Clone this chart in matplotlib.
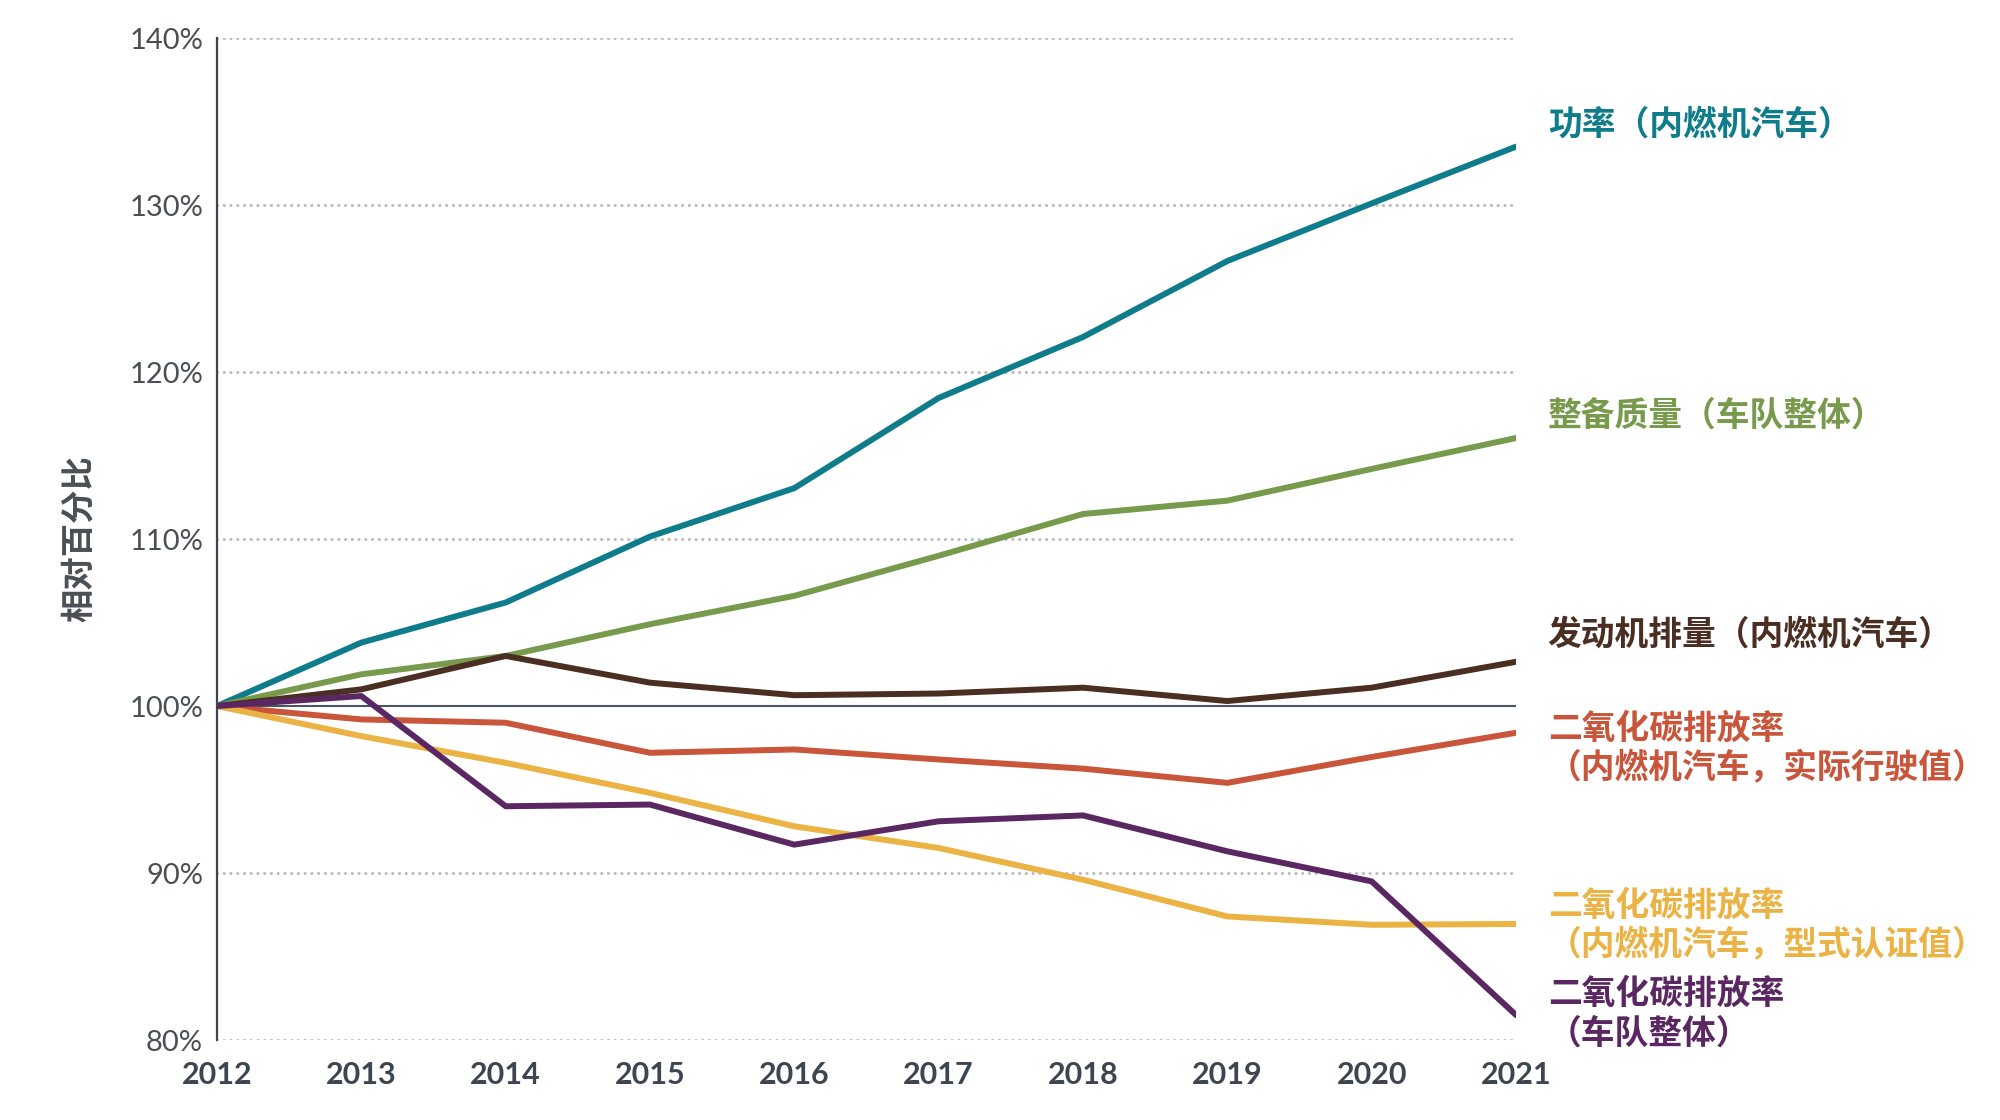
import matplotlib
matplotlib.use('Agg')
import matplotlib.pyplot as plt

plt.rcParams['font.family'] = ['Noto Sans CJK SC', 'DejaVu Sans']

years = [2012, 2013, 2014, 2015, 2016, 2017, 2018, 2019, 2020, 2021]

# 相对 2012 年的百分比
power_ice = [100, 103.8, 106.2, 110.15, 113.05, 118.45, 122.1, 126.65, 130.1, 133.5]
mass_fleet = [100, 101.9, 103.0, 104.9, 106.6, 109.0, 111.5, 112.3, 114.2, 116.05]
displacement_ice = [100, 101.0, 103.0, 101.4, 100.65, 100.75, 101.1, 100.3, 101.1, 102.65]
co2_real_ice = [100, 99.2, 99.0, 97.2, 97.4, 96.8, 96.25, 95.4, 96.95, 98.4]
co2_type_ice = [100, 98.2, 96.6, 94.8, 92.8, 91.5, 89.6, 87.4, 86.9, 86.95]
co2_fleet = [100, 100.6, 94.0, 94.1, 91.7, 93.1, 93.45, 91.3, 89.5, 81.5]

series = [
    (power_ice, '#0f7c8c', '功率（内燃机汽车）', 134.85),
    (mass_fleet, '#779a4c', '整备质量（车队整体）', 117.4),
    (displacement_ice, '#4b2e22', '发动机排量（内燃机汽车）', 104.3),
    (co2_real_ice, '#c9553a', '二氧化碳排放率\n（内燃机汽车，实际行驶值）', 97.5),
    (co2_type_ice, '#ebb244', '二氧化碳排放率\n（内燃机汽车，型式认证值）', 86.9),
    (co2_fleet, '#5b2762', '二氧化碳排放率\n（车队整体）', 81.6),
]

yticks = [80, 90, 100, 110, 120, 130, 140]
ytick_labels = ['80%', '90%', '100%', '110%', '120%', '130%', '140%']

fig = plt.figure(figsize=(20, 11.2), dpi=100)
ax = fig.add_axes([0.1085, 0.0714, 0.6495, 0.8946])

# 网格线（虚点）和 100% 基准线
for v in yticks:
    if v == 100:
        ax.axhline(v, color='#4a5560', lw=1.5, zorder=1)
    else:
        ax.axhline(v, color='#bdbdbd', lw=2.3, linestyle=(0, (0.01, 2.1)),
                   dash_capstyle='round', zorder=0)

for vals, color, label, label_y in series:
    ax.plot(years, vals, color=color, lw=4.3, solid_capstyle='round',
            solid_joinstyle='round', zorder=3)
    ax.text(2021.22, label_y, label, color=color, fontsize=24.3, fontweight='bold',
            va='center', ha='left', linespacing=1.15, clip_on=False)

ax.set_xlim(2012, 2021)
ax.set_ylim(80, 140)
ax.set_xticks(years)
ax.set_xticklabels([str(y) for y in years], family=['Lato', 'DejaVu Sans'],
                   fontsize=22, fontweight='bold', color='#3d4550')
ax.set_yticks(yticks)
ax.set_yticklabels(ytick_labels, family=['Lato', 'DejaVu Sans'],
                   fontsize=21, fontweight='normal', color='#4a4f55')
ax.tick_params(axis='both', length=0)
ax.tick_params(axis='x', pad=15)
ax.tick_params(axis='y', pad=10)

for s in ['top', 'right', 'bottom']:
    ax.spines[s].set_visible(False)
ax.spines['left'].set_color('#3d4550')
ax.spines['left'].set_linewidth(1.6)

ax.set_ylabel('相对百分比', fontsize=24, fontweight='bold', color='#4a4f55', labelpad=24)

fig.savefig('out.png', dpi=100)
